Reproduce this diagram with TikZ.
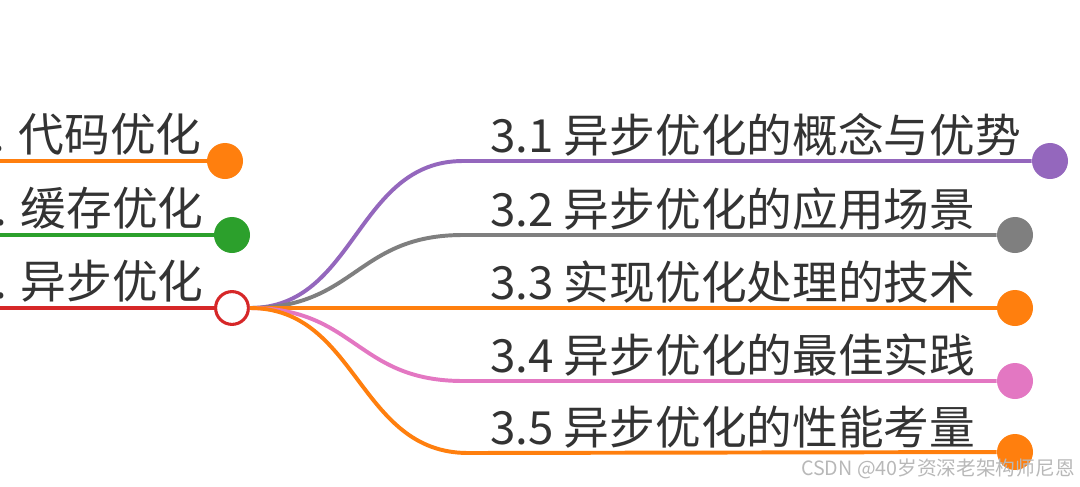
\documentclass[tikz,border=0pt]{standalone}
\usepackage{fontspec}
\setmainfont{Noto Sans CJK SC}
\usepackage{xcolor}
\usepackage{tikz}

\definecolor{corange}{HTML}{FF7F0E}
\definecolor{cgreen}{HTML}{2CA02C}
\definecolor{cred}{HTML}{D62728}
\definecolor{cpurple}{HTML}{9467BD}
\definecolor{cgray}{HTML}{7F7F7F}
\definecolor{cpink}{HTML}{E377C2}
\definecolor{ctext}{HTML}{333333}

\tikzset{
  leaf/.style={circle, fill=#1, minimum size=0.9cm, inner sep=0pt},
  branch/.style={draw=#1, line width=2.8pt},
  topic/.style={inner sep=0pt, text=ctext, font=\fontsize{32.5pt}{39pt}\selectfont},
}

\begin{document}
\begin{tikzpicture}[x=0.025cm, y=-0.025cm]
            \useasboundingbox (0, 0) rectangle (1080, 487);
            \clip (0, 0) rectangle (1080, 487);

            % left side
            \coordinate (l1) at (-5, 161);
            \coordinate (l2) at (-5, 235);
            \coordinate (l3) at (-5, 308);
            \node[leaf=corange] (d1) at (225, 161) {};
            \node[leaf=cgreen] (d2) at (232, 235) {};
            \node[circle, draw=cred, line width=2.2pt, fill=white, minimum size=0.82cm, inner sep=0pt] (root) at (232, 308) {};

            \draw[branch=corange] (l1) -- (d1);
            \draw[branch=cgreen] (l2) -- (d2);
            \draw[branch=cred] (l3) -- (root);

            \node[topic, anchor=base east] (t1) at (202, 151) {1. 代码优化};
            \node[topic, anchor=base east] (t2) at (204, 225) {2. 缓存优化};
            \node[topic, anchor=base east] (t3) at (204, 298) {3. 异步优化};

            % right side
            \coordinate (c1) at (463, 161);
            \coordinate (c2) at (463, 235);
            \coordinate (c3) at (463, 308);
            \coordinate (c4) at (463, 381);
            \coordinate (c5) at (468, 453);

            \node[leaf=cpurple] (d31) at (1050, 161) {};
            \node[leaf=cgray] (d32) at (1015, 235) {};
            \node[leaf=corange] (d33) at (1015, 308) {};
            \node[leaf=cpink] (d34) at (1015, 381) {};
            \node[leaf=corange] (d35) at (1015, 452) {};

            \draw[branch=cpurple] (root.east) .. controls (356, 308) and (356, 161) .. (c1) -- (d31);
            \draw[branch=cgray] (root.east) .. controls (356, 308) and (356, 235) .. (c2) -- (d32);
            \draw[branch=corange] (root.east) -- (c3) -- (d33);
            \draw[branch=cpink] (root.east) .. controls (356, 308) and (356, 381) .. (c4) -- (d34);
            \draw[branch=corange] (root.east) .. controls (358, 308) and (358, 453) .. (c5) -- (d35);

            \node[topic, anchor=base west] (t31) at (490, 152) {3.1 异步优化的概念与优势};
            \node[topic, anchor=base west] (t32) at (490, 226) {3.2 异步优化的应用场景};
            \node[topic, anchor=base west] (t33) at (490, 299) {3.3 实现优化处理的技术};
            \node[topic, anchor=base west] (t34) at (490, 372) {3.4 异步优化的最佳实践};
            \node[topic, anchor=base west] (t35) at (490, 444) {3.5 异步优化的性能考量};

            \node[inner sep=0pt, anchor=base east, text=black!28, font=\fontsize{14pt}{16pt}\selectfont] (mark) at (1075, 475) {CSDN @40岁资深老架构师尼恩};
        \end{tikzpicture}
\end{document}
